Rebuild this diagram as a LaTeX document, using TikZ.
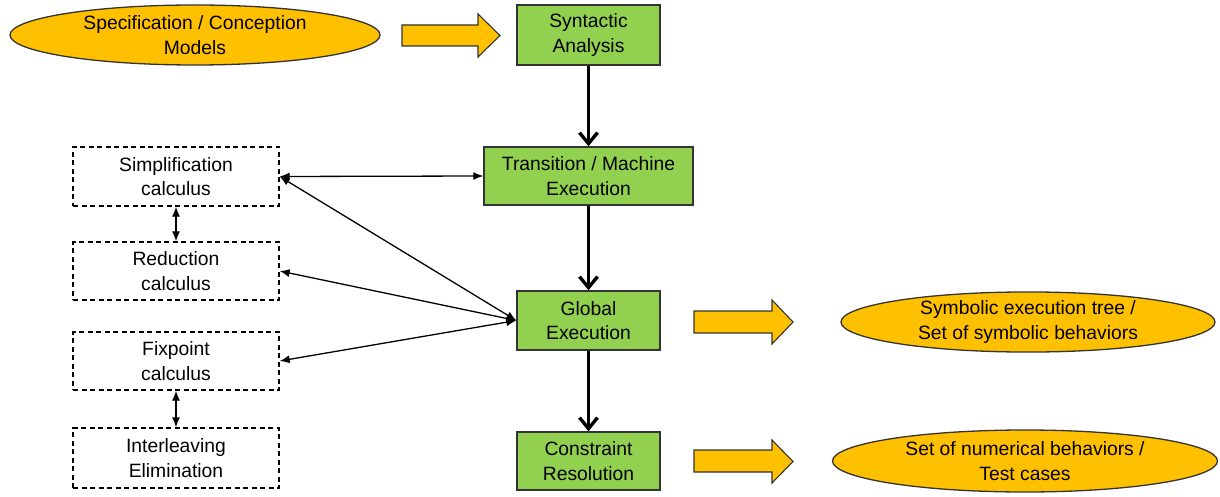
\documentclass[tikz,border=0pt]{standalone}
\usepackage{fontspec}
\setmainfont{Liberation Sans}
\usetikzlibrary{arrows.meta,shapes.geometric}
\definecolor{orng}{HTML}{FFC000}
\definecolor{grn}{HTML}{92D050}
\begin{document}
\begin{tikzpicture}[x=1pt,y=-1pt,
  every node/.style={font=\fontsize{19.3}{24.5}\selectfont, align=center, inner sep=0pt},
  oval/.style={ellipse, draw=black!80, line width=1.3pt, fill=orng},
  gbox/.style={rectangle, draw=black!80, line width=1.4pt, fill=grn},
  dbox/.style={rectangle, draw=black, line width=1.3pt, dash pattern=on 5pt off 3.5pt},
  bigarr/.style={line width=3.6pt, -{Straight Barb[length=11pt,width=18pt,line width=3.4pt]}},
  thin/.style={line width=1.3pt, {Latex[length=10pt,width=8pt]}-{Latex[length=10pt,width=8pt]}},
  blockarr/.style={draw=black!80, line width=1.1pt, fill=orng, line join=miter}
]
\useasboundingbox (0,0) rectangle (1220,497);
% ellipses
\node[oval, minimum width=370, minimum height=60] (spec) at (195,35) {Specification / Conception\\Models};
\node[oval, minimum width=374, minimum height=60] (sym) at (1028,322) {Symbolic execution tree /\\Set of symbolic behaviors};
\node[oval, minimum width=385, minimum height=62] (num) at (1025,461) {Set of numerical behaviors /\\Test cases};
% green boxes
\node[gbox, minimum width=143, minimum height=60] (sa) at (588.5,35) {Syntactic\\Analysis};
\node[gbox, minimum width=209, minimum height=58] (tme) at (588.5,176) {Transition / Machine\\Execution};
\node[gbox, minimum width=143, minimum height=59] (ge) at (588.5,320.5) {Global\\Execution};
\node[gbox, minimum width=143, minimum height=58] (cr) at (588.5,461) {Constraint\\Resolution};
% dashed boxes
\node[dbox, minimum width=206, minimum height=59] (simp) at (176,176.5) {Simplification\\calculus};
\node[dbox, minimum width=206, minimum height=58] (red) at (176,271) {Reduction\\calculus};
\node[dbox, minimum width=206, minimum height=58] (fix) at (176,361) {Fixpoint\\calculus};
\node[dbox, minimum width=206, minimum height=60] (inter) at (176,458) {Interleaving\\Elimination};
% block arrows
\draw[blockarr] (402,25) -- (478,25) -- (478,14) -- (500,35.5) -- (478,57) -- (478,46) -- (402,46) -- cycle;
\draw[blockarr] (694,311) -- (772,311) -- (772,300) -- (793,322) -- (772,344) -- (772,333) -- (694,333) -- cycle;
\draw[blockarr] (694,450) -- (772,450) -- (772,440) -- (793,461.5) -- (772,483) -- (772,472) -- (694,472) -- cycle;
% thick arrows
\draw[bigarr] (sa) -- (tme);
\draw[bigarr] (tme) -- (ge);
\draw[bigarr] (ge) -- (cr);
% thin arrows
\draw[thin] (simp.east) -- (tme.west);
\draw[thin] (simp) -- (red);
\draw[thin] (fix) -- (inter);
\draw[thin] (ge.west) -- (simp.east);
\draw[thin] (ge.west) -- (red.east);
\draw[thin] (ge.west) -- (fix.east);
\end{tikzpicture}
\end{document}
